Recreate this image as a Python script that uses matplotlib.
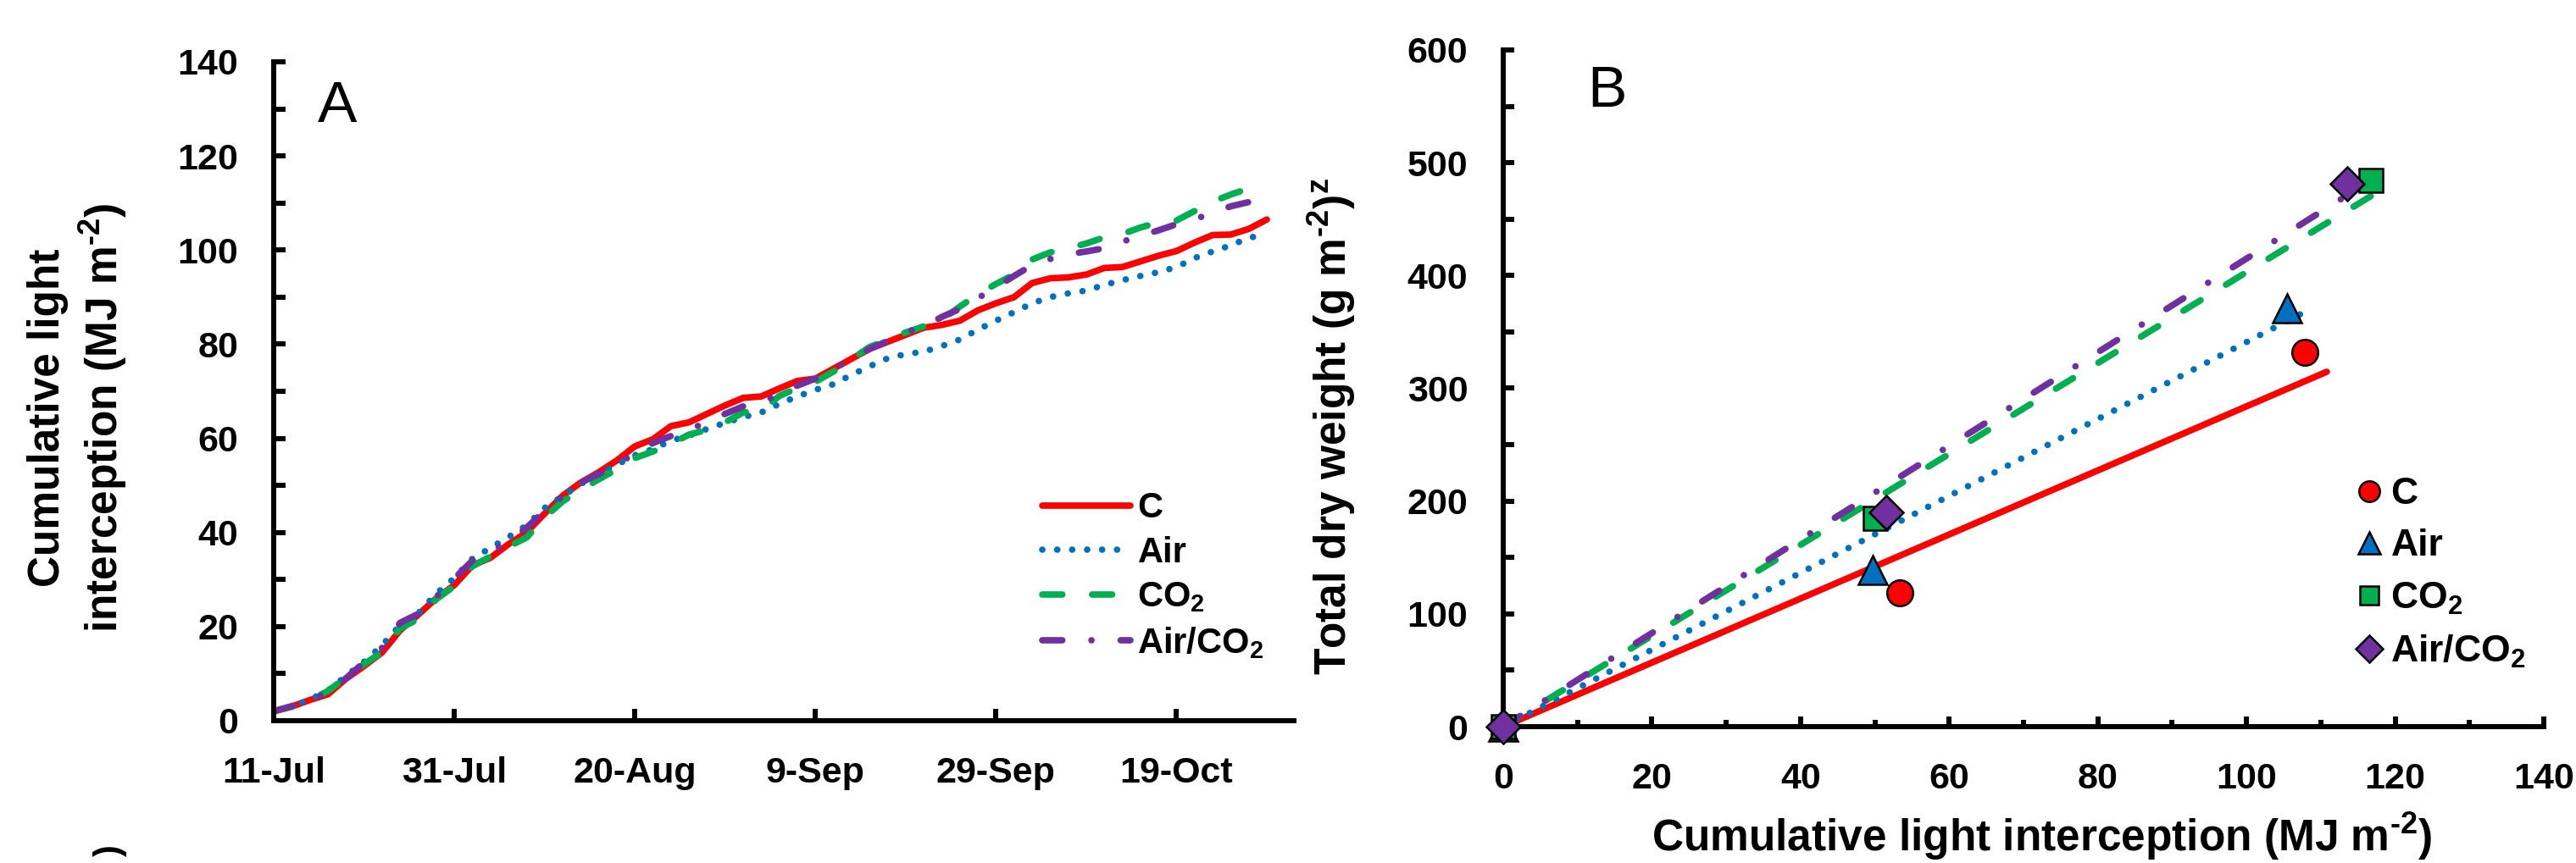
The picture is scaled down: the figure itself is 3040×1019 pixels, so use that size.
import numpy as np
import matplotlib
matplotlib.use('Agg')
import matplotlib.pyplot as plt
from matplotlib.ticker import MultipleLocator

plt.rcParams['font.family'] = ['Liberation Sans', 'DejaVu Sans']
plt.rcParams['mathtext.fontset'] = 'custom'
plt.rcParams['mathtext.rm'] = 'Liberation Sans:bold'
plt.rcParams['mathtext.bf'] = 'Liberation Sans:bold'
plt.rcParams['mathtext.it'] = 'Liberation Sans:bold'
plt.rcParams['mathtext.default'] = 'bf'

# ---------------- data ----------------
treatments = ['C', 'Air', 'CO$_2$', 'Air/CO$_2$']
colors = ['#FF0000', '#0070C0', '#00B050', '#7030A0']

start_date = '2014-07-11'
days = [0, 2, 4, 6, 8, 10, 12, 14, 16, 18, 20, 22, 24, 26, 28, 30, 32, 34, 36, 38,
        40, 42, 44, 46, 48, 50, 52, 54, 56, 58, 60, 62, 64, 66, 68, 70, 72, 74, 76, 78,
        80, 82, 84, 86, 88, 90, 92, 94, 96, 98, 100, 102, 104, 106, 108, 110]

cli_C = [2.0, 3.0, 4.4, 5.6, 8.9, 11.6, 14.5, 19.2, 22.5, 26.0, 28.8, 33.0, 34.6, 37.5,
         40.0, 44.0, 47.8, 50.6, 52.8, 55.3, 58.3, 59.8, 62.6, 63.4, 65.2, 67.0, 68.6,
         68.9, 70.6, 72.2, 72.7, 74.8, 76.9, 79.0, 80.5, 82.0, 83.5, 84.1, 85.0, 87.2,
         88.7, 90.0, 93.0, 94.0, 94.2, 94.8, 96.2, 96.4, 97.6, 98.8, 99.8, 101.6, 103.2,
         103.3, 104.5, 106.5]
cli_Air = [2.0, 3.0, 4.5, 6.4, 9.5, 12.5, 16.0, 20.3, 22.8, 27.0, 30.3, 34.4, 36.7, 39.0,
           41.5, 45.2, 47.7, 50.3, 52.4, 54.4, 56.4, 57.7, 59.5, 60.6, 62.0, 63.3, 64.5,
           65.5, 67.3, 68.9, 70.3, 71.5, 73.5, 75.3, 77.0, 77.9, 78.4, 79.6, 81.0, 83.1,
           85.0, 86.8, 88.7, 90.0, 90.8, 91.4, 92.6, 93.6, 94.5, 95.3, 96.4, 98.3, 99.7,
           101.0, 102.6, 103.4]
cli_CO2 = [2.0, 3.0, 4.4, 6.3, 9.2, 12.0, 14.6, 19.6, 21.6, 25.8, 28.6, 32.8, 34.9, 37.0,
           38.9, 43.2, 46.6, 49.0, 51.3, 53.4, 55.8, 57.2, 58.8, 60.8, 61.8, 63.4, 65.5,
           65.9, 69.0, 70.7, 72.0, 74.2, 76.8, 79.4, 80.9, 82.5, 83.8, 85.2, 88.0, 90.6,
           92.8, 94.8, 98.0, 99.5, 100.4, 101.4, 102.7, 103.4, 104.8, 105.9, 106.3, 108.3,
           110.3, 111.8, 113.1, 114.4]
cli_AirCO2 = [2.0, 3.1, 4.5, 5.9, 9.0, 12.4, 15.5, 20.8, 22.7, 26.3, 30.2, 34.0, 35.9, 38.0,
              41.0, 44.6, 47.7, 50.6, 52.4, 54.5, 56.8, 59.0, 60.5, 61.9, 63.4, 65.2, 66.8,
              67.4, 69.6, 71.2, 72.7, 74.8, 76.8, 79.0, 80.7, 82.5, 83.8, 85.8, 87.5, 89.8,
              92.1, 94.5, 96.8, 98.1, 99.1, 99.7, 100.4, 101.8, 103.0, 104.2, 105.5, 106.5,
              108.0, 109.3, 110.2, 111.7]

xtick_days = [0, 20, 40, 60, 80, 100]
xtick_labels = ['11-Jul', '31-Jul', '20-Aug', '9-Sep', '29-Sep', '19-Oct']
x_end_day = 113

# Panel B: cumulative light interception vs total dry weight
light_C = [0, 53.4, 107.9]
dw_C = [0, 119, 332]
light_Air = [0, 49.7, 105.5]
dw_Air = [0, 139, 371]
light_CO2 = [0, 50.0, 116.7]
dw_CO2 = [0, 185, 484]
light_AirCO2 = [0, 51.5, 113.6]
dw_AirCO2 = [0, 190, 481]
fit_slope = [2.84, 3.41, 4.03, 4.15]
fit_end = [110.8, 108.0, 119.5, 115.0]

# ---------------- figure ----------------
W, H = 3040, 1019
fig = plt.figure(figsize=(W / 100, H / 100), dpi=100)


def rect(l, r, b, t):
    return [l / W, 1 - b / H, (r - l) / W, (b - t) / H]


lw = 5.5
styles = [dict(linestyle='-', solid_capstyle='round', solid_joinstyle='round'),
          dict(linestyle=(0, (0.01, 2.3)), dash_capstyle='round'),
          dict(linestyle=(0, (3.1, 4.6)), dash_capstyle='round'),
          dict(linestyle=(0, (3.1, 4.5, 0.01, 4.5)), dash_capstyle='round')]

spine_w = 4.3
tick_font = 31
label_font = 37
sup = r'$^{\text{-2}}$'

# ---- Panel A ----
axA = fig.add_axes(rect(323, 1527, 851, 73))
t0 = np.datetime64(start_date)
dates = t0 + np.array(days).astype('timedelta64[D]')
series = [cli_C, cli_Air, cli_CO2, cli_AirCO2]
handles = []
for vals, col, st, lab in zip(series, colors, styles, treatments):
    h, = axA.plot(dates, vals, color=col, lw=lw, label=lab, **st)
    handles.append(h)

axA.set_xlim(t0, t0 + np.timedelta64(x_end_day, 'D'))
axA.set_ylim(0, 140)
axA.set_xticks(t0 + np.array(xtick_days).astype('timedelta64[D]'))
axA.set_xticklabels(xtick_labels)
axA.yaxis.set_major_locator(MultipleLocator(20))
axA.yaxis.set_minor_locator(MultipleLocator(10))
axA.tick_params(axis='y', which='both', direction='in', length=10, width=spine_w,
                pad=30, labelsize=tick_font)
axA.tick_params(axis='x', which='both', direction='in', length=10, width=spine_w,
                pad=30, labelsize=tick_font)
for lab in axA.get_xticklabels() + axA.get_yticklabels():
    lab.set_fontweight('bold')
for s in ['top', 'right']:
    axA.spines[s].set_visible(False)
for s in ['left', 'bottom']:
    axA.spines[s].set_linewidth(spine_w)

axA.legend(handles=handles, loc='center left', bbox_to_anchor=(1230 / W, 1 - 680 / H),
           bbox_transform=fig.transFigure, frameon=False,
           prop={'weight': 'bold', 'size': 30}, handlelength=2.5, handletextpad=0.2,
           labelspacing=0.3, borderpad=0, borderaxespad=0)

fig.text(92 / W, 1 - 493 / H, 'Cumulative light\ninterception (MJ m' + sup + ')',
         rotation=90, ha='center', va='center', fontsize=label_font, fontweight='bold',
         multialignment='center', linespacing=1.2)
fig.text(375 / W, 1 - 144 / H, 'A', fontsize=50, ha='left', va='baseline')

# ---- Panel B ----
axB = fig.add_axes(rect(1774, 3002, 858, 59))
lights = [light_C, light_Air, light_CO2, light_AirCO2]
dws = [dw_C, dw_Air, dw_CO2, dw_AirCO2]
markers = ['o', '^', 's', 'D']
msizes = [22, 24, 20, 20]
for slope, xe, col, st in zip(fit_slope, fit_end, colors, styles):
    xl = np.array([0.0, xe])
    axB.plot(xl, slope * xl, color=col, lw=lw, **st)
mhandles = []
for lx, dy, col, mk, ms, lab in zip(lights, dws, colors, markers, msizes, treatments):
    h, = axB.plot(lx, dy, linestyle='none', marker=mk, markersize=ms, markerfacecolor=col,
                  markeredgecolor='black', markeredgewidth=1.8, clip_on=False, zorder=5,
                  label=lab)
    mhandles.append(h)

axB.set_xlim(0, 140)
axB.set_ylim(0, 600)
axB.xaxis.set_major_locator(MultipleLocator(20))
axB.xaxis.set_minor_locator(MultipleLocator(10))
axB.yaxis.set_major_locator(MultipleLocator(100))
axB.yaxis.set_minor_locator(MultipleLocator(50))
axB.tick_params(axis='x', which='major', direction='in', length=9, width=spine_w,
                pad=30, labelsize=tick_font)
axB.tick_params(axis='x', which='minor', direction='in', length=6, width=spine_w)
axB.tick_params(axis='y', which='both', direction='in', length=9, width=spine_w,
                pad=30, labelsize=tick_font)
for lab in axB.get_xticklabels() + axB.get_yticklabels():
    lab.set_fontweight('bold')
for s in ['top', 'right']:
    axB.spines[s].set_visible(False)
for s in ['left', 'bottom']:
    axB.spines[s].set_linewidth(spine_w)

axB.legend(handles=mhandles, loc='center left', bbox_to_anchor=(2785 / W, 1 - 677 / H),
           bbox_transform=fig.transFigure, frameon=False,
           prop={'weight': 'bold', 'size': 32}, handlelength=0.5, handletextpad=0.32,
           labelspacing=0.45, borderpad=0, borderaxespad=0, markerscale=0.8, numpoints=1)

fig.text(2410 / W, 1 - 988 / H, 'Cumulative light interception (MJ m' + sup + ')',
         ha='center', va='center', fontsize=label_font, fontweight='bold')
fig.text(1572 / W, 1 - 504 / H, 'Total dry weight (g m' + sup + ')$^{z}$',
         rotation=90, ha='center', va='center', fontsize=label_font, fontweight='bold')
fig.text(1873 / W, 1 - 126 / H, 'B', fontsize=50, ha='left', va='baseline')

# stray cropped character at bottom left
fig.text(130 / W, 1 - 1004 / H, ')', rotation=90, ha='center', va='center',
         fontsize=30, fontweight='bold')

fig.savefig('out.png', dpi=100)
